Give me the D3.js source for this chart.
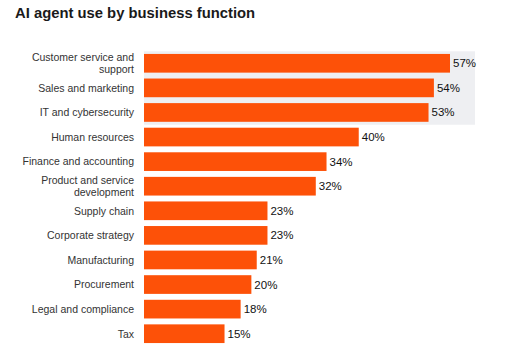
<!DOCTYPE html>
<html><head><meta charset="utf-8">
<script src="https://cdn.jsdelivr.net/npm/d3@7"></script>
<style>body{margin:0;background:#fff;}svg{display:block;}</style>
</head><body>
<svg id="c" width="512" height="360"></svg>
<script>
const categories = [
  ["Customer service and","support"],
  ["Sales and marketing"],
  ["IT and cybersecurity"],
  ["Human resources"],
  ["Finance and accounting"],
  ["Product and service","development"],
  ["Supply chain"],
  ["Corporate strategy"],
  ["Manufacturing"],
  ["Procurement"],
  ["Legal and compliance"],
  ["Tax"]
];
const values = [57, 54, 53, 40, 34, 32, 23, 23, 21, 20, 18, 15];
const highlighted = [0, 1, 2];
const title = "AI agent use by business function";

const svg = d3.select("#c");
const ids = categories.map((c, i) => i);
const x = d3.scaleLinear().domain([0, 57]).range([144, 450]);
const y = d3.scaleBand().domain(ids).range([51, 346]).paddingInner(0.24).paddingOuter(0.12);

svg.append("text").attr("x", 15).attr("y", 18)
  .attr("font-family", "Liberation Sans, Arial, sans-serif")
  .attr("font-weight", "bold").attr("font-size", 14.8).attr("fill", "#1a1a1a")
  .text(title);

// highlight background
const step = y.step();
const hTop = y(highlighted[0]) - y.paddingOuter() * step * 0.9;
const hBot = y(highlighted[highlighted.length - 1]) + y.bandwidth() + step * 0.12;
svg.append("rect")
  .attr("x", x(0)).attr("width", 475 - x(0))
  .attr("y", hTop).attr("height", hBot - hTop)
  .attr("fill", "#eeeff2");

svg.append("g").selectAll("rect").data(ids).join("rect")
  .attr("x", x(0)).attr("y", d => y(d))
  .attr("width", d => x(values[d]) - x(0)).attr("height", y.bandwidth())
  .attr("fill", "#fd5108");

const lab = svg.append("g")
  .attr("font-family", "Liberation Sans, Arial, sans-serif")
  .attr("font-size", 10.5).attr("fill", "#333");
ids.forEach(i => {
  const lines = categories[i];
  const cy = y(i) + y.bandwidth() / 2;
  const lh = 12;
  const t = lab.append("text").attr("text-anchor", "end").attr("x", 134);
  lines.forEach((l, k) => {
    t.append("tspan").attr("x", 134)
      .attr("y", cy + (k - (lines.length - 1) / 2) * lh + 3.8).text(l);
  });
});

svg.append("g").selectAll("text").data(ids).join("text")
  .attr("font-family", "Liberation Sans, Arial, sans-serif")
  .attr("font-size", 11.5).attr("fill", "#111")
  .attr("x", d => x(values[d]) + 3).attr("y", d => y(d) + y.bandwidth() / 2 + 4)
  .text(d => values[d] + "%");
</script>
</body></html>
